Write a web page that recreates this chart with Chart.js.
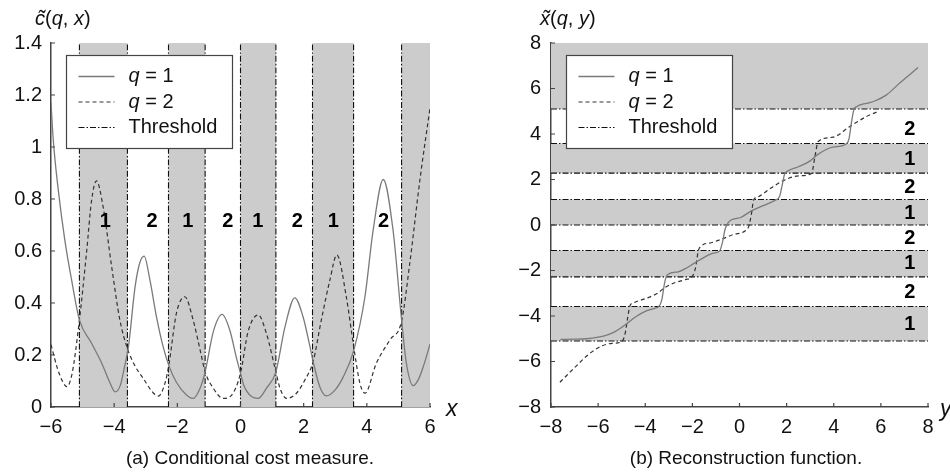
<!DOCTYPE html>
<html>
<head>
<meta charset="utf-8">
<script src="https://cdn.jsdelivr.net/npm/chart.js@4.4.1/dist/chart.umd.min.js"></script>
<style>
  body { margin: 0; background: #fff; font-family: "Liberation Sans", Arial, sans-serif; }
  #wrap { position: relative; width: 950px; height: 475px; overflow: hidden; }
  canvas { position: absolute; top: 0; }
  .txt { position: absolute; white-space: nowrap; color: #111; line-height: 1; }
</style>
</head>
<body>
<div id="wrap">
  <canvas id="costChart" width="475" height="475" style="left:0"></canvas>
  <canvas id="reconChart" width="475" height="475" style="left:475px"></canvas>
  <div class="txt" style="left:35px;top:8px;font-size:20px"><i>c&#x0303;</i>(<i>q</i>, <i>x</i>)</div>
  <div class="txt" style="left:540px;top:8px;font-size:20px"><i>x&#x0303;</i>(<i>q</i>, <i>y</i>)</div>
  <div class="txt" style="left:446px;top:397px;font-size:23px"><i>x</i></div>
  <div class="txt" style="left:940px;top:397px;font-size:23px"><i>y</i></div>
  <div class="txt" style="left:0;width:500px;text-align:center;top:448px;font-size:19px">(a) Conditional cost measure.</div>
  <div class="txt" style="left:496px;width:500px;text-align:center;top:448px;font-size:19px">(b) Reconstruction function.</div>
</div>
<script>
// ---- data: (a) conditional cost measure ----
const costX1 = [-6.0, -5.93, -5.77, -5.56, -5.35, -5.1, -4.72, -4.4, -4.13, -3.97, -3.8, -3.68, -3.55, -3.34, -3.2, -3.05,
  -2.87, -2.66, -2.45, -2.27, -2.03, -1.71, -1.5, -1.28, -1.12, -0.86, -0.58, -0.34, -0.13, 0.0, 0.1, 0.35, 0.56, 0.82,
  1.12, 1.41, 1.72, 1.98, 2.2, 2.3, 2.51, 2.72, 2.99, 3.25, 3.58, 3.94, 4.2, 4.52, 4.83, 5.1, 5.25, 5.47, 5.65, 5.8, 6.0];
const costQ1 = [1.17, 1.03, 0.835, 0.64, 0.49, 0.335, 0.246, 0.17, 0.092, 0.058, 0.085, 0.15, 0.23, 0.46, 0.55, 0.58,
  0.49, 0.347, 0.232, 0.16, 0.095, 0.046, 0.033, 0.072, 0.135, 0.29, 0.356, 0.296, 0.19, 0.13, 0.085, 0.04, 0.033, 0.072,
  0.135, 0.309, 0.42, 0.347, 0.232, 0.175, 0.078, 0.043, 0.065, 0.115, 0.215, 0.424, 0.68, 0.875, 0.68, 0.335, 0.17, 0.082, 0.11, 0.16, 0.242];
const costX2 = [-6.0, -5.8, -5.62, -5.5, -5.33, -5.1, -4.87, -4.72, -4.56, -4.35, -4.08, -3.82, -3.58, -3.35, -3.08, -2.76,
  -2.6, -2.39, -2.27, -2.03, -1.76, -1.5, -1.28, -1.12, -0.86, -0.55, -0.28, 0.0, 0.24, 0.56, 0.82, 1.12, 1.25, 1.46,
  1.77, 2.04, 2.3, 2.56, 2.83, 3.05, 3.35, 3.58, 3.78, 3.94, 4.3, 4.73, 5.1, 5.36, 5.68, 6.0];
const costQ2 = [0.24, 0.15, 0.095, 0.078, 0.13, 0.335, 0.6, 0.79, 0.87, 0.77, 0.54, 0.335, 0.225, 0.16, 0.11, 0.054,
  0.042, 0.092, 0.16, 0.36, 0.424, 0.335, 0.22, 0.135, 0.072, 0.033, 0.046, 0.13, 0.29, 0.354, 0.283, 0.135, 0.072, 0.033,
  0.053, 0.104, 0.175, 0.335, 0.488, 0.585, 0.424, 0.235, 0.092, 0.053, 0.168, 0.258, 0.33, 0.553, 0.873, 1.15];

// ---- data: (b) reconstruction function ----
const reconX1 = [-7.6, -7.0, -6.5, -6.0, -5.6, -5.3, -5.0, -4.7, -4.4, -4.0, -3.6, -3.42, -3.3, -3.17, -3.05, -2.6, -2.3,
  -1.95, -1.5, -1.1, -0.85, -0.72, -0.62, -0.48, -0.3, 0.05, 0.5, 1.0, 1.5, 1.7, 1.8, 1.92, 2.1, 2.5, 3.0, 3.27, 3.7, 4.0,
  4.5, 4.65, 4.75, 4.85, 5.0, 5.4, 5.74, 6.24, 6.8, 7.58];
const reconQ1 = [-5.03, -5.02, -5.0, -4.93, -4.83, -4.7, -4.5, -4.27, -4.03, -3.8, -3.66, -3.58, -3.3, -2.5, -2.18, -2.06, -1.92,
  -1.7, -1.42, -1.24, -1.15, -0.75, -0.22, 0.1, 0.25, 0.33, 0.62, 0.85, 1.08, 1.25, 1.7, 2.25, 2.4, 2.56, 2.82, 3.06, 3.33, 3.43,
  3.54, 3.8, 4.5, 5.05, 5.22, 5.35, 5.45, 5.72, 6.24, 6.92];
const reconX2 = [-7.62, -7.3, -6.98, -6.42, -5.85, -5.4, -5.0, -4.86, -4.75, -4.65, -4.5, -4.0, -3.45, -3.17, -2.7, -2.3,
  -2.0, -1.87, -1.75, -1.6, -1.2, -0.7, -0.2, 0.37, 0.5, 0.6, 0.79, 1.3, 1.92, 2.5, 3.06, 3.2, 3.34, 3.97, 4.68, 5.39, 5.88];
const reconQ2 = [-6.91, -6.58, -6.25, -5.7, -5.32, -5.2, -5.13, -4.8, -4.1, -3.55, -3.42, -3.24, -2.98, -2.75, -2.52, -2.4,
  -2.25, -1.9, -1.15, -0.9, -0.78, -0.6, -0.4, -0.12, 0.45, 1.1, 1.24, 1.6, 1.98, 2.16, 2.27, 3.0, 3.67, 3.86, 4.33, 4.77, 4.99];

// ---- shared thresholds and decision regions ----
const thresholds = [-5.1, -3.58, -2.28, -1.12, 0, 1.12, 2.28, 3.58, 5.1];
const costBands = [[-5.1, -3.58], [-2.28, -1.12], [0, 1.12], [2.28, 3.58], [5.1, 6]];
const reconBands = [[5.1, 8], [2.28, 3.58], [0, 1.12], [-2.28, -1.12], [-5.1, -3.58]];
const costRegionX = [-4.28, -2.8, -1.67, -0.4, 0.55, 1.8, 2.94, 4.53];
const costRegionText = ['1', '2', '1', '2', '1', '2', '1', '2'];
const costRegionY = 0.713;
const reconRegionY = [4.22, 2.9, 1.64, 0.5, -0.6, -1.7, -2.97, -4.38];
const reconRegionText = ['2', '1', '2', '1', '2', '1', '2', '1'];
const reconRegionX = 7.23;
const seriesNames = ['q = 1', 'q = 2', 'Threshold'];

const FONT = '"Liberation Sans", Arial, sans-serif';
const pts = (xs, ys) => xs.map((x, i) => ({ x: x, y: ys[i] }));
const fmt = v => String(Number(v.toFixed(2))).replace('-', '\u2212');

const solidStyle = { borderColor: '#7a7a7a', borderWidth: 1.3, borderDash: [] };
const dashStyle = { borderColor: '#333', borderWidth: 1.2, borderDash: [4, 3] };
const threshStyle = { borderColor: '#111', borderWidth: 1.1, borderDash: [6, 2, 1.5, 2] };

function curve(label, data, style) {
  return Object.assign({ label: label, data: data, pointRadius: 0, fill: false,
    cubicInterpolationMode: 'monotone' }, style);
}

// shaded bands, region numbers, inward ticks and boxed legend
const decor = {
  id: 'decor',
  beforeDatasetsDraw(chart, args, o) {
    const { ctx, chartArea: a, scales: { x, y } } = chart;
    ctx.save();
    ctx.fillStyle = '#cccccc';
    o.bands.forEach(b => {
      if (o.vertical) {
        const x0 = x.getPixelForValue(b[0]), x1 = x.getPixelForValue(b[1]);
        ctx.fillRect(x0, a.top, x1 - x0, a.bottom - a.top);
      } else {
        const y0 = y.getPixelForValue(b[1]), y1 = y.getPixelForValue(b[0]);
        ctx.fillRect(a.left, y0, a.right - a.left, y1 - y0);
      }
    });
    ctx.restore();
  },
  afterDatasetsDraw(chart, args, o) {
    const { ctx, chartArea: a, scales: { x, y } } = chart;
    ctx.save();
    // region numbers
    ctx.fillStyle = '#000';
    ctx.font = 'bold 20px ' + FONT;
    ctx.textAlign = 'center';
    ctx.textBaseline = 'middle';
    o.regions.forEach(r => ctx.fillText(r.t, x.getPixelForValue(r.x), y.getPixelForValue(r.y)));
    // inward tick marks
    ctx.strokeStyle = '#444';
    ctx.lineWidth = 1.2;
    ctx.beginPath();
    x.ticks.forEach(t => { const px = x.getPixelForValue(t.value); ctx.moveTo(px, a.bottom); ctx.lineTo(px, a.bottom - 4); });
    y.ticks.forEach(t => { const py = y.getPixelForValue(t.value); ctx.moveTo(a.left, py); ctx.lineTo(a.left + 4, py); });
    ctx.stroke();
    // legend box
    const lx = a.left + 15.5, ly = a.top + 12.5, w = 166, h = 93;
    ctx.fillStyle = '#fff';
    ctx.fillRect(lx, ly, w, h);
    ctx.strokeStyle = '#444';
    ctx.lineWidth = 1.2;
    ctx.strokeRect(lx, ly, w, h);
    seriesNames.forEach((name, i) => {
      const ds = chart.data.datasets[i];
      const yy = ly + 21 + i * 25.5;
      ctx.beginPath();
      ctx.setLineDash(ds.borderDash);
      ctx.strokeStyle = ds.borderColor;
      ctx.lineWidth = ds.borderWidth;
      ctx.moveTo(lx + 12, yy);
      ctx.lineTo(lx + 48, yy);
      ctx.stroke();
      ctx.setLineDash([]);
      ctx.fillStyle = '#111';
      ctx.textAlign = 'left';
      ctx.textBaseline = 'middle';
      let tx = lx + 62, rest = name;
      if (name.charAt(0) === 'q') {
        ctx.font = 'italic 20px ' + FONT;
        ctx.fillText('q', tx, yy);
        tx += ctx.measureText('q').width;
        rest = name.slice(1);
      }
      ctx.font = '20px ' + FONT;
      ctx.fillText(rest, tx, yy);
    });
    ctx.restore();
  }
};

function axis(min, max, step, pad, fit) {
  return {
    type: 'linear', min: min, max: max,
    grid: { drawOnChartArea: false, drawTicks: false },
    border: { display: true, color: '#444', width: 1.5 },
    ticks: { stepSize: step, padding: pad, color: '#111', font: { family: FONT, size: 20 }, callback: fmt },
    afterFit: fit
  };
}

function makeChart(id, datasets, scales, padding, decorOpts) {
  return new Chart(document.getElementById(id), {
    type: 'line',
    data: { datasets: datasets },
    options: {
      responsive: false, animation: false,
      layout: { padding: padding },
      scales: scales,
      plugins: { legend: { display: false }, tooltip: { enabled: false }, decor: decorOpts }
    },
    plugins: [decor]
  });
}

// (a)
const costSets = [
  curve(seriesNames[0], pts(costX1, costQ1), solidStyle),
  curve(seriesNames[1], pts(costX2, costQ2), dashStyle)
].concat(thresholds.map(t => curve(seriesNames[2], [{ x: t, y: 0 }, { x: t, y: 1.4 }], threshStyle)));

makeChart('costChart', costSets, {
  x: axis(-6, 6, 2, 8, s => { s.height = 68; }),
  y: axis(0, 1.4, 0.2, 9, s => { s.width = 51; })
}, { top: 43, right: 45, left: 0, bottom: 0 }, {
  vertical: true, bands: costBands,
  regions: costRegionX.map((x, i) => ({ x: x, y: costRegionY, t: costRegionText[i] }))
});

// (b)
const reconSets = [
  curve(seriesNames[0], pts(reconX1, reconQ1), solidStyle),
  curve(seriesNames[1], pts(reconX2, reconQ2), dashStyle)
].concat(thresholds.map(t => curve(seriesNames[2], [{ x: -8, y: t }, { x: 8, y: t }], threshStyle)));

makeChart('reconChart', reconSets, {
  x: axis(-8, 8, 2, 8, s => { s.height = 68; }),
  y: axis(-8, 8, 2, 10, s => { s.width = 76; })
}, { top: 43, right: 22, left: 0, bottom: 0 }, {
  vertical: false, bands: reconBands,
  regions: reconRegionY.map((y, i) => ({ x: reconRegionX, y: y, t: reconRegionText[i] }))
});
</script>
</body>
</html>
